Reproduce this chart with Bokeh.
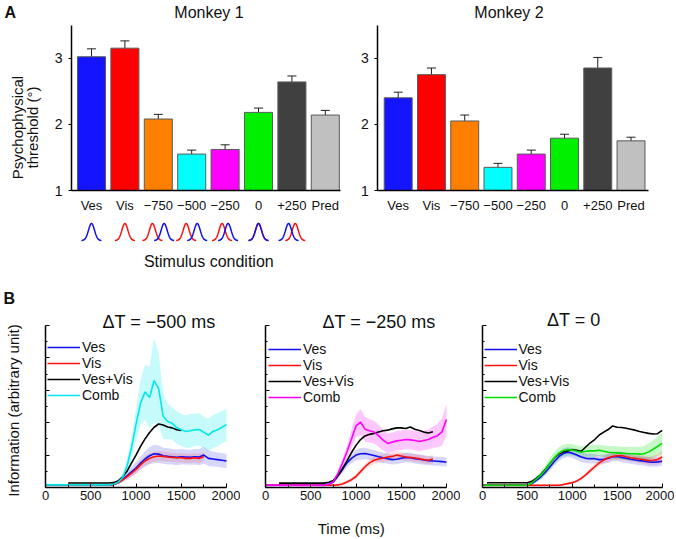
import numpy as np
from bokeh.plotting import figure
from bokeh.models import (Range1d, FixedTicker, Label, Whisker, TeeHead, LinearAxis,
                          ColumnDataSource, Legend, LegendItem)
from bokeh.layouts import row, column
from bokeh.embed import file_html
from bokeh.resources import INLINE

FONT = "Liberation Sans"
MINUS = "\u2212"

# ---------------- Panel A data ----------------
categories = ["Ves", "Vis", MINUS + "750", MINUS + "500", MINUS + "250", "0", "+250", "Pred"]
bar_colors = ["#1414ff", "#ff0000", "#ff8000", "#00ffff", "#ff00ff", "#00f000", "#404040", "#c0c0c0"]
monkey1_threshold = [3.02, 3.15, 2.08, 1.55, 1.62, 2.18, 2.64, 2.14]
monkey1_sem = [0.12, 0.11, 0.07, 0.06, 0.07, 0.065, 0.09, 0.07]
monkey2_threshold = [2.40, 2.75, 2.05, 1.35, 1.55, 1.79, 2.85, 1.75]
monkey2_sem = [0.085, 0.10, 0.09, 0.06, 0.06, 0.06, 0.16, 0.055]
# peak shift of the vestibular (blue) / visual (red) icon for each condition
icon_ves_shift = [0.0, None, 0.175, 0.165, 0.09, 0.0, -0.1, None]
icon_vis_shift = [None, 0.0, -0.175, -0.165, -0.09, 0.0, 0.1, None]

# ---------------- Panel B data ----------------
time_ms = list(range(0, 2001, 50))

b1_ves = [0.08, 0.08, 0.08, 0.08, 0.08, 0.08, 0.08, 0.08, 0.08, 0.08, 0.08, 0.08, 0.08, 0.08,
          0.08, 0.09, 0.15, 0.25, 0.36, 0.48, 0.6, 0.75, 0.88, 0.98, 1.04, 1.03, 0.98, 0.96, 0.95,
          0.93, 0.95, 0.94, 0.93, 0.95, 0.94, 1.0, 0.9, 0.88, 0.86, 0.84, 0.82]
b1_vis = [0.08, 0.08, 0.08, 0.08, 0.08, 0.08, 0.08, 0.08, 0.08, 0.08, 0.08, 0.08, 0.08, 0.08,
          0.08, 0.09, 0.14, 0.23, 0.33, 0.44, 0.56, 0.7, 0.82, 0.9, 0.95, 0.97, 0.96, 0.94, 0.93,
          0.92, 0.92, 0.9, 0.9, 0.92, 0.9, 0.95, None, None, None, None, None]
b1_sum = [None, None, None, None, None, 0.14, 0.14, 0.14, 0.14, 0.14, 0.14, 0.14, 0.14, 0.14,
          0.14, 0.15, 0.2, 0.32, 0.5, 0.75, 1.0, 1.27, 1.5, 1.7, 1.86, 1.96, 1.93, 1.87, 1.84,
          1.78, 1.76, None, None, None, None, None, None, None, None, None, None]
b1_comb = [0.08, 0.08, 0.08, 0.08, 0.08, 0.08, 0.08, 0.08, 0.08, 0.08, 0.08, 0.08, 0.08, 0.08,
           0.08, 0.1, 0.16, 0.3, 0.65, 1.22, 1.95, 2.6, 2.95, 2.78, 3.3, 3.05, 2.2, 2.04, 1.98,
           1.85, 1.78, 1.73, 1.75, 1.78, 1.79, 1.7, 1.62, 1.73, 1.78, 1.86, 1.94]
b1_comb_sem = [0.04, 0.04, 0.04, 0.04, 0.04, 0.04, 0.04, 0.04, 0.04, 0.04, 0.04, 0.04, 0.04, 0.04,
               0.04, 0.04, 0.06, 0.12, 0.22, 0.35, 0.5, 0.7, 0.85, 0.95, 1.3, 1.1, 0.7, 0.55, 0.5,
               0.5, 0.5, 0.5, 0.52, 0.5, 0.5, 0.48, 0.5, 0.5, 0.52, 0.5, 0.5]
b1_ves_sem = [0.03, 0.03, 0.03, 0.03, 0.03, 0.03, 0.03, 0.03, 0.03, 0.03, 0.03, 0.03, 0.03, 0.03,
              0.03, 0.03, 0.05, 0.08, 0.12, 0.15, 0.18, 0.2, 0.24, 0.26, 0.28, 0.27, 0.25, 0.25, 0.24,
              0.24, 0.24, 0.23, 0.23, 0.24, 0.25, 0.26, 0.24, 0.23, 0.22, 0.22, 0.22]
b1_vis_sem = [0.03, 0.03, 0.03, 0.03, 0.03, 0.03, 0.03, 0.03, 0.03, 0.03, 0.03, 0.03, 0.03, 0.03,
              0.03, 0.03, 0.04, 0.06, 0.08, 0.1, 0.12, 0.13, 0.14, 0.15, 0.15, 0.15, 0.15, 0.14, 0.14,
              0.14, 0.14, 0.14, 0.14, 0.14, 0.14, 0.14, None, None, None, None, None]

b2_ves = [0.07, 0.07, 0.07, 0.07, 0.07, 0.07, 0.07, 0.07, 0.07, 0.07, 0.07, 0.07, 0.07, 0.07,
          0.1, 0.17, 0.35, 0.55, 0.76, 0.9, 1.0, 1.04, 1.05, 1.02, 0.99, 0.95, 0.92, 0.89, 0.86,
          0.87, 0.9, 0.93, 0.92, 0.89, 0.87, 0.85, 0.83, 0.82, 0.81, 0.8, 0.78]
b2_vis = [0.07, 0.07, 0.07, 0.07, 0.07, 0.07, 0.07, 0.07, 0.07, 0.07, 0.07, 0.07, 0.07, 0.07,
          0.07, 0.07, 0.08, 0.11, 0.17, 0.24, 0.34, 0.49, 0.64, 0.76, 0.84, 0.88, 0.91, 0.94, 0.96,
          1.0, 0.97, 0.94, 0.93, 0.91, 0.89, 0.86, 0.84, 0.88, None, None, None]
b2_sum = [None, None, None, 0.135, 0.135, 0.135, 0.135, 0.135, 0.135, 0.135, 0.135, 0.135, 0.135, 0.135,
          0.16, 0.22, 0.37, 0.58, 0.82, 1.08, 1.3, 1.48, 1.59, 1.64, 1.67, 1.71, 1.75, 1.77, 1.81,
          1.84, 1.84, 1.82, 1.87, 1.8, 1.76, 1.71, 1.68, 1.72, None, None, None]
b2_comb = [0.07, 0.07, 0.07, 0.07, 0.07, 0.07, 0.07, 0.07, 0.07, 0.07, 0.07, 0.07, 0.07, 0.07,
           0.1, 0.18, 0.43, 0.75, 1.1, 1.5, 1.9, 2.02, 1.8, 1.75, 1.71, 1.6, 1.46, 1.36, 1.4,
           1.44, 1.46, 1.48, 1.47, 1.45, 1.42, 1.45, 1.48, 1.55, 1.6, 1.72, 2.1]
b2_comb_sem = [0.04, 0.04, 0.04, 0.04, 0.04, 0.04, 0.04, 0.04, 0.04, 0.04, 0.04, 0.04, 0.04, 0.04,
               0.04, 0.04, 0.1, 0.15, 0.2, 0.28, 0.35, 0.4, 0.38, 0.36, 0.35, 0.34, 0.32, 0.3, 0.3,
               0.3, 0.3, 0.3, 0.3, 0.3, 0.3, 0.3, 0.31, 0.33, 0.36, 0.42, 0.5]
b2_ves_sem = [0.03, 0.03, 0.03, 0.03, 0.03, 0.03, 0.03, 0.03, 0.03, 0.03, 0.03, 0.03, 0.03, 0.03,
              0.03, 0.03, 0.06, 0.1, 0.13, 0.15, 0.17, 0.18, 0.18, 0.17, 0.17, 0.16, 0.16, 0.16, 0.15,
              0.15, 0.15, 0.15, 0.15, 0.15, 0.15, 0.15, 0.14, 0.14, 0.14, 0.14, 0.14]
b2_vis_sem = [0.03, 0.03, 0.03, 0.03, 0.03, 0.03, 0.03, 0.03, 0.03, 0.03, 0.03, 0.03, 0.03, 0.03,
              0.03, 0.03, 0.03, 0.04, 0.05, 0.06, 0.07, 0.08, 0.09, 0.1, 0.11, 0.12, 0.12, 0.12, 0.12,
              0.12, 0.12, 0.12, 0.12, 0.12, 0.12, 0.12, 0.12, 0.12, None, None, None]

b3_ves = [0.07, 0.07, 0.07, 0.07, 0.07, 0.07, 0.07, 0.07, 0.07, 0.07, 0.07,
          0.12, 0.22, 0.33, 0.47, 0.63, 0.8, 0.95, 1.05, 1.09, 1.06, 1.0, 0.94, 0.9, 0.89, 0.89,
          0.86, 0.87, 0.9, 0.95, 0.96, 0.93, 0.9, 0.87, 0.85, 0.83, 0.81, 0.79, 0.78, 0.79, 0.81]
b3_vis = [0.07, 0.07, 0.07, 0.07, 0.07, 0.07, 0.07, 0.07, 0.07, 0.07, 0.07, 0.07, 0.07, 0.07,
          0.07, 0.07, 0.07, 0.07, 0.09, 0.12, 0.15, 0.2, 0.28, 0.39, 0.52, 0.64, 0.76, 0.85, 0.92,
          0.96, 0.98, 0.99, 0.95, 0.92, 0.9, 0.88, 0.86, 0.83, 0.84, 0.86, 0.94]
b3_sum = [None, 0.146, 0.146, 0.146, 0.146, 0.146, 0.146, 0.146, 0.146, 0.146, 0.146,
          0.19, 0.29, 0.4, 0.56, 0.74, 0.91, 1.03, 1.1, 1.13, 1.17, 1.15, 1.12, 1.25, 1.38, 1.48,
          1.62, 1.71, 1.79, 1.9, 1.86, 1.85, 1.83, 1.8, 1.77, 1.73, 1.7, 1.67, 1.65, 1.66, 1.76]
b3_comb = [0.07, 0.07, 0.07, 0.07, 0.07, 0.07, 0.07, 0.07, 0.07, 0.07, 0.07,
           0.14, 0.27, 0.38, 0.55, 0.74, 0.92, 1.06, 1.14, 1.17, 1.16, 1.12, 1.09, 1.12, 1.13, 1.13,
           1.15, 1.12, 1.09, 1.08, 1.07, 1.06, 1.05, 1.04, 1.04, 1.03, 1.04, 1.1, 1.18, 1.27, 1.36]
b3_comb_sem = [0.04, 0.04, 0.04, 0.04, 0.04, 0.04, 0.04, 0.04, 0.04, 0.04, 0.04,
               0.06, 0.09, 0.12, 0.15, 0.17, 0.18, 0.18, 0.18, 0.18, 0.18, 0.18, 0.18, 0.18, 0.18, 0.18,
               0.18, 0.18, 0.19, 0.19, 0.2, 0.2, 0.2, 0.21, 0.22, 0.23, 0.24, 0.26, 0.28, 0.3, 0.32]
b3_ves_sem = [0.03, 0.03, 0.03, 0.03, 0.03, 0.03, 0.03, 0.03, 0.03, 0.03, 0.03,
              0.04, 0.06, 0.08, 0.1, 0.12, 0.13, 0.14, 0.15, 0.15, 0.15, 0.15, 0.15, 0.15, 0.15, 0.14,
              0.14, 0.14, 0.14, 0.14, 0.14, 0.14, 0.14, 0.14, 0.14, 0.14, 0.14, 0.14, 0.14, 0.14, 0.14]
b3_vis_sem = [0.03, 0.03, 0.03, 0.03, 0.03, 0.03, 0.03, 0.03, 0.03, 0.03, 0.03, 0.03, 0.03, 0.03,
              0.03, 0.03, 0.03, 0.03, 0.03, 0.03, 0.03, 0.04, 0.05, 0.06, 0.08, 0.09, 0.1, 0.11, 0.12,
              0.12, 0.12, 0.12, 0.12, 0.12, 0.12, 0.12, 0.13, 0.13, 0.14, 0.16, 0.18]

BLUE = "#1010ee"
RED = "#ff1010"
CYAN = "#00e8e8"
MAGENTA = "#ff00ff"
GREEN = "#00e000"
TEXT = "#111111"


def arr(vals):
    return np.array([np.nan if v is None else v for v in vals], dtype=float)


def new_fig(width, height, x_range, y_range):
    p = figure(width=width, height=height, x_range=x_range, y_range=y_range,
               output_backend="svg", toolbar_location=None,
               min_border_left=0, min_border_right=0, min_border_top=0, min_border_bottom=0)
    p.title.visible = False
    p.grid.visible = False
    p.outline_line_color = None
    p.background_fill_color = "white"
    p.border_fill_color = "white"
    return p


def style_axis(ax):
    ax.axis_line_width = 1.5
    ax.axis_line_color = "black"
    ax.major_tick_line_color = "black"
    ax.minor_tick_line_color = "black"
    ax.major_label_text_font = FONT
    ax.major_label_text_color = TEXT


def label(p, x, y, text, size, angle=0.0, bold=False, align="center"):
    p.add_layout(Label(x=x, y=y, text=text, text_font=FONT, text_font_size=size,
                       text_font_style="bold" if bold else "normal", angle=angle,
                       text_align=align, text_baseline="middle", text_color=TEXT))


# ---------------- Panel A ----------------
ROW_A_H = 280


def ya(py):            # pixel row -> threshold value (shared by both monkeys)
    return 1 + (190.0 - py) / 66.2


def bar_panel(vals, errs, width, gx0, bar0_px, step_px, axis_px, axis_end_px):
    def xa(gx):
        return (gx - bar0_px) / step_px
    p = new_fig(width, ROW_A_H, Range1d(xa(gx0), xa(gx0 + width)), Range1d(ya(ROW_A_H), ya(0)))
    xs = list(range(len(categories)))
    src = ColumnDataSource(dict(x=xs, top=vals, color=bar_colors,
                                upper=[v + e for v, e in zip(vals, errs)],
                                lower=[v - e for v, e in zip(vals, errs)]))
    p.vbar(x="x", top="top", bottom=1, width=0.84, fill_color="color",
           line_color="#5a5a5a", line_width=1, source=src)
    p.add_layout(Whisker(base="x", upper="upper", lower="lower", source=src,
                         line_color="#202020", line_width=1,
                         upper_head=TeeHead(size=9, line_color="#202020", line_width=1),
                         lower_head=TeeHead(size=9, line_color="#202020", line_width=1)))
    xax, yax = p.xaxis[0], p.yaxis[0]
    style_axis(xax)
    style_axis(yax)
    xax.fixed_location = 1
    xax.bounds = (xa(axis_px), xa(axis_end_px))
    xax.ticker = FixedTicker(ticks=xs, minor_ticks=[])
    xax.major_label_overrides = {i: c for i, c in enumerate(categories)}
    xax.major_tick_out = 0
    xax.major_tick_in = 0
    xax.major_label_standoff = 7
    xax.major_label_text_font_size = "13px"
    yax.fixed_location = xa(axis_px)
    yax.bounds = (1, 3.5)
    yax.ticker = FixedTicker(ticks=[1, 2, 3], minor_ticks=[])
    yax.major_tick_out = 3
    yax.major_tick_in = 0
    yax.major_label_standoff = 6
    yax.major_label_text_font_size = "14px"
    return p, xa


fig_m1, xa1 = bar_panel(monkey1_threshold, monkey1_sem, 345, 0, 91.0, 33.4, 71.0, 340.0)
fig_m2, xa2 = bar_panel(monkey2_threshold, monkey2_sem, 329, 345, 397.7, 33.26, 377.3, 648.0)

label(fig_m1, xa1(208.5), ya(12), "Monkey 1", "16px")
label(fig_m2, xa2(508.5), ya(12), "Monkey 2", "16px")
label(fig_m1, xa1(4), ya(12), "A", "16px", bold=True, align="left")
label(fig_m1, xa1(16.5), ya(127), "Psychophysical", "15px", angle=np.pi / 2)
label(fig_m1, xa1(31.5), ya(127), "threshold (\u00b0)", "15px", angle=np.pi / 2)
label(fig_m1, xa1(208.3), ya(261), "Stimulus condition", "16px")

# stimulus icons under Monkey 1 (category units on x)
u = np.linspace(-0.3, 0.3, 41)
icon_base, icon_peak = ya(240), ya(223)
bump = icon_base + (icon_peak - icon_base) * np.exp(-u ** 2 / (2 * 0.09 ** 2))
for shifts, color in ((icon_vis_shift, RED), (icon_ves_shift, BLUE)):
    xs_list, ys_list = [], []
    for i, s in enumerate(shifts):
        if s is None:
            continue
        xs_list.append(list(i + s + u))
        ys_list.append(list(bump))
    fig_m1.multi_line(xs=xs_list, ys=ys_list, line_color=color, line_width=1.5)

# ---------------- Panel B ----------------
T = np.array(time_ms, dtype=float)
ROW_B_TOP, ROW_B_H = 280, 257


def yb(gy):            # pixel row -> information value
    return (487.0 - gy) / 32.4


def time_panel(width, gx0, axis_px, px_per_ms, ves, vis, vsum, comb, comb_color,
               ves_sem, vis_sem, comb_sem, legend_loc):
    def xb(gx):
        return (gx - axis_px) / px_per_ms
    p = new_fig(width, ROW_B_H, Range1d(xb(gx0), xb(gx0 + width)),
                Range1d(yb(ROW_B_TOP + ROW_B_H), yb(ROW_B_TOP)))
    for vals, sem, color, alpha in ((comb, comb_sem, comb_color, 0.22),
                                    (ves, ves_sem, BLUE, 0.17),
                                    (vis, vis_sem, RED, 0.14)):
        y = arr(vals)
        h = arr(sem)
        m = ~np.isnan(y) & ~np.isnan(h)
        p.varea(x=T[m], y1=y[m] - h[m], y2=y[m] + h[m], fill_color=color, fill_alpha=alpha)
    r_ves = p.line(T, arr(ves), line_color=BLUE, line_width=1.6)
    r_vis = p.line(T, arr(vis), line_color=RED, line_width=1.6)
    r_sum = p.line(T, arr(vsum), line_color="black", line_width=1.6)
    r_comb = p.line(T, arr(comb), line_color=comb_color, line_width=1.6)
    legend = Legend(items=[LegendItem(label="Ves", renderers=[r_ves]),
                           LegendItem(label="Vis", renderers=[r_vis]),
                           LegendItem(label="Ves+Vis", renderers=[r_sum]),
                           LegendItem(label="Comb", renderers=[r_comb])],
                    location=legend_loc, padding=5, margin=0, spacing=0,
                    glyph_width=33, glyph_height=16, label_height=16, label_standoff=2,
                    label_text_font=FONT, label_text_font_size="14px",
                    label_text_line_height=1.0, label_text_color=TEXT,
                    border_line_color=None, background_fill_alpha=0)
    p.add_layout(legend)
    xax, yax = p.xaxis[0], p.yaxis[0]
    style_axis(xax)
    style_axis(yax)
    xax.fixed_location = 0
    xax.bounds = (0, 2000)
    xax.ticker = FixedTicker(ticks=[0, 500, 1000, 1500, 2000], minor_ticks=[250, 750, 1250, 1750])
    xax.major_tick_in = 4
    xax.major_tick_out = 0
    xax.minor_tick_in = 3
    xax.minor_tick_out = 0
    xax.major_label_standoff = 3
    xax.major_label_text_font_size = "13px"
    # y axis: unlabeled, short ticks at half units
    yax.fixed_location = 0
    yax.bounds = (0, 5)
    yax.ticker = FixedTicker(ticks=[], minor_ticks=[0.5, 1.5, 2.5, 3.5, 4.5])
    yax.minor_tick_in = 2
    yax.minor_tick_out = 0
    # longer ticks at whole units
    yax2 = LinearAxis(fixed_location=0, bounds=(0, 5),
                      ticker=FixedTicker(ticks=[], minor_ticks=[1, 2, 3, 4, 5]),
                      axis_line_color=None, minor_tick_in=4, minor_tick_out=0,
                      minor_tick_line_color="black")
    p.add_layout(yax2, "left")
    return p, xb


fig_b1, xb1 = time_panel(240, 0, 45.0, 0.0905, b1_ves, b1_vis, b1_sum, b1_comb, CYAN,
                         b1_ves_sem, b1_vis_sem, b1_comb_sem, (47, 134.5))
fig_b2, xb2 = time_panel(220, 240, 265.0, 0.0905, b2_ves, b2_vis, b2_sum, b2_comb, MAGENTA,
                         b2_ves_sem, b2_vis_sem, b2_comb_sem, (28, 132))
fig_b3, xb3 = time_panel(214, 460, 482.0, 0.0898, b3_ves, b3_vis, b3_sum, b3_comb, GREEN,
                         b3_ves_sem, b3_vis_sem, b3_comb_sem, (23.5, 132))

label(fig_b1, xb1(158.5), yb(321), "\u0394T = " + MINUS + "500 ms", "18px")
label(fig_b2, xb2(378.5), yb(321), "\u0394T = " + MINUS + "250 ms", "18px")
label(fig_b3, xb3(573.3), yb(319.3), "\u0394T = 0", "18px")
label(fig_b1, xb1(3), yb(298), "B", "16px", bold=True, align="left")
label(fig_b1, xb1(12.5), yb(410), "Information (arbitrary unit)", "15px", angle=np.pi / 2)
label(fig_b2, xb2(350.7), yb(528), "Time (ms)", "15px")

layout = column(row(fig_m1, fig_m2), row(fig_b1, fig_b2, fig_b3))

with open("out.html", "w") as f:
    f.write(file_html(layout, INLINE, title="Psychophysical threshold and information"))
